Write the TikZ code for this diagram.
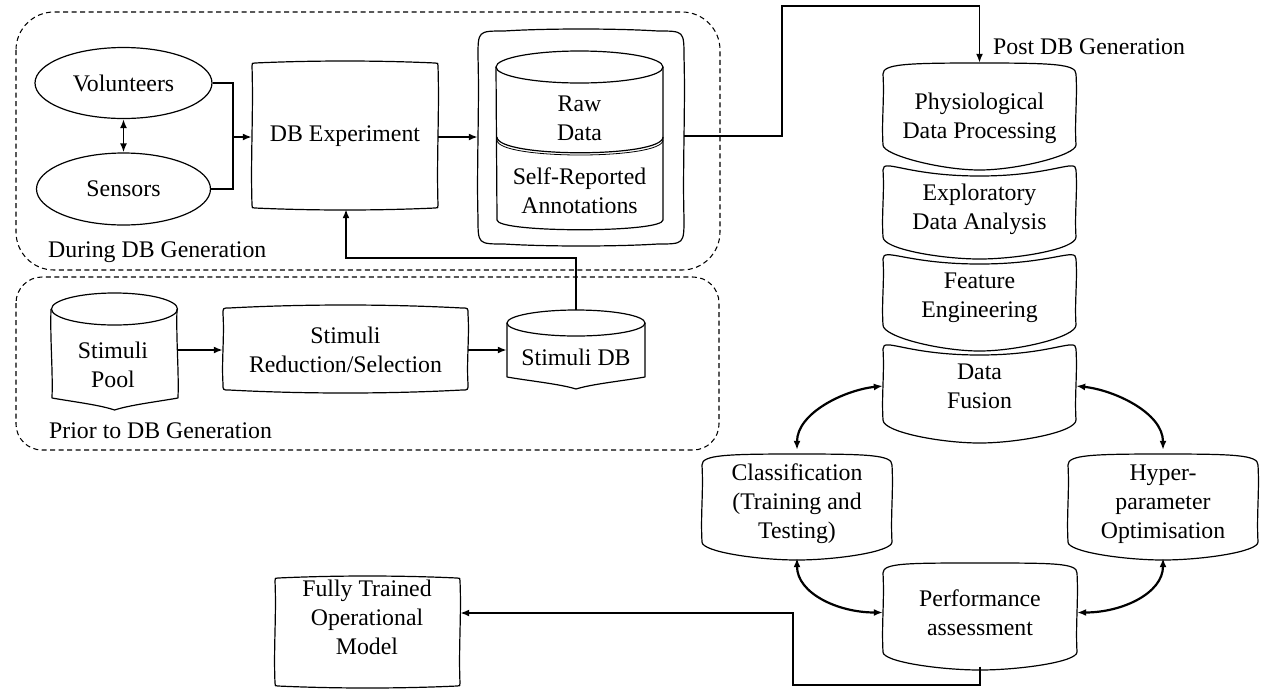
\documentclass[tikz,border=0pt]{standalone}
\usepackage{fontspec}
\setmainfont{Liberation Serif}
\usetikzlibrary{arrows.meta,shapes.geometric}

\tikzset{
  skline/.style={line width=1.2pt, line join=round},
  grp/.style={line width=1.05pt, dash pattern=on 5pt off 3.5pt},
  lbl/.style={inner sep=0pt, align=center},
  conn0/.style={line width=1.8pt},
  conn/.style={line width=1.8pt, -{Latex[length=9pt,width=7pt]}},
  biconn/.style={line width=2.2pt, {Latex[length=9pt,width=7pt]}-{Latex[length=9pt,width=7pt]}},
}

% near-rectangular hand-drawn box: x1 x2 topside topmid bottomside bottommid radius
\newcommand{\wavyrect}[7]{%
  \draw[skline] (#1,{#3+#7}) .. controls (#1,#3) .. ({#1+#7},#3)
    .. controls ({#1+0.33*(#2-#1)},{#3+4*(#4-#3)/3}) and ({#1+0.67*(#2-#1)},{#3+4*(#4-#3)/3}) .. ({#2-#7},#3)
    .. controls (#2,#3) .. (#2,{#3+#7})
    .. controls ({#2+1.5},{#3+0.35*(#5-#3)}) and ({#2-1.5},{#3+0.65*(#5-#3)}) .. (#2,{#5-#7})
    .. controls (#2,#5) .. ({#2-#7},#5)
    .. controls ({#1+0.67*(#2-#1)},{#5+4*(#6-#5)/3}) and ({#1+0.33*(#2-#1)},{#5+4*(#6-#5)/3}) .. ({#1+#7},#5)
    .. controls (#1,#5) .. (#1,{#5-#7})
    .. controls ({#1-1.5},{#3+0.65*(#5-#3)}) and ({#1+1.5},{#3+0.35*(#5-#3)}) .. (#1,{#3+#7}) -- cycle;}

% bowl-bottomed box: x1 x2 sidetop topmid sidebottom bottommid corner
\newcommand{\bowlbox}[7]{%
  \draw[skline] (#1,#3)
    .. controls (#1,{#3-#7}) and ({#1+0.12*(#2-#1)},#4) .. ({0.5*(#1+#2)},#4)
    .. controls ({#2-0.12*(#2-#1)},#4) and (#2,{#3-#7}) .. (#2,#3)
    .. controls ({#2+1.5},{#3+0.35*(#5-#3)}) and ({#2-1.5},{#3+0.65*(#5-#3)}) .. (#2,#5)
    .. controls (#2,{#5+#7}) and ({#2-0.3*(#2-#1)},#6) .. ({0.5*(#1+#2)},#6)
    .. controls ({#1+0.3*(#2-#1)},#6) and (#1,{#5+#7}) .. (#1,#5)
    .. controls ({#1-1.5},{#3+0.65*(#5-#3)}) and ({#1+1.5},{#3+0.35*(#5-#3)}) .. (#1,#3) -- cycle;}

\begin{document}
\begin{tikzpicture}[x=1pt, y=-1pt, font=\fontsize{23.8}{29}\selectfont]
\useasboundingbox (0,0) rectangle (1261,689);

% groups
\draw[grp, rounded corners=38pt] (16,12) rectangle (720,270);
\draw[grp, rounded corners=26pt] (16,277) rectangle (719,450);
\node[lbl, anchor=base west] (during) at (48,257) {During DB Generation};
\node[lbl, anchor=base west] (prior) at (49,438) {Prior to DB Generation};
\node[lbl, anchor=base west] (post) at (993,54) {Post DB Generation};

% volunteers / sensors
\node[draw, skline, ellipse, inner sep=0pt, minimum width=177pt, minimum height=71pt] (vol) at (123.5,83) {Volunteers};
\node[draw, skline, ellipse, inner sep=0pt, minimum width=174pt, minimum height=72pt] (sen) at (123.5,189) {Sensors};

% DB experiment
\wavyrect{252}{438}{63}{61}{208}{210}{3}
\node[lbl, minimum width=186pt, minimum height=146pt] (dbexp) at (345,136) {DB Experiment};

% raw data container
\wavyrect{478}{684}{31}{29}{244}{246}{26}
\node[lbl, minimum width=206pt, minimum height=214pt] (rawouter) at (581,136) {};
\draw[skline] (496,67) -- (497,220) .. controls (497,233) and (663,233) .. (663,220) -- (663,67);
\draw[skline] (579.5,67) ellipse [x radius=83.5pt, y radius=16pt];
\draw[skline] (497,137) .. controls (497,158) and (663,158) .. (663,137);
\draw[line width=0.8pt] (497,140) .. controls (497,160) and (663,160) .. (663,140);
\node[lbl] (raw) at (579.5,118) {Raw\\Data};
\node[lbl] (self) at (579.5,191) {Self-Reported\\Annotations};

% stimuli pool
\draw[skline] (51,309) .. controls (50,340) and (53,370) .. (52,398)
  .. controls (75,402) and (100,405) .. (114.5,410)
  .. controls (130,405) and (155,402) .. (178,398)
  .. controls (179,370) and (176,340) .. (177,309);
\draw[skline] (114.5,309) ellipse [x radius=63pt, y radius=16pt];
\node[lbl, minimum width=127pt, minimum height=118pt] (stimpool) at (114.5,350) {};
\node[lbl] (stimpooltxt) at (113,365) {Stimuli\\Pool};

% stimuli reduction
\wavyrect{223}{468}{308}{305}{390}{393}{6}
\node[lbl, minimum width=245pt, minimum height=85pt] (stimred) at (345.5,350) {Stimuli\\Reduction/Selection};

% stimuli DB
\draw[skline] (507,323) -- (507,377) .. controls (530,381) and (560,384) .. (576,389)
  .. controls (592,384) and (622,381) .. (645,377) -- (645,323);
\draw[skline] (576,323) ellipse [x radius=69pt, y radius=13pt];
\node[lbl, minimum width=138pt, minimum height=80pt] (stimdb) at (576,350) {};
\node[lbl] (stimdbtxt) at (576,357) {Stimuli DB};

% right column
\bowlbox{883}{1076}{74}{63}{145}{170}{10}
\bowlbox{883}{1076}{170}{176}{237}{259}{12}
\bowlbox{883}{1076}{259}{264}{325}{351}{12}
\bowlbox{883}{1076}{349}{355}{420}{443}{12}
\node[lbl, minimum width=193pt, minimum height=110pt] (phys) at (979.5,118) {Physiological\\Data Processing};
\node[lbl, minimum width=193pt, minimum height=90pt] (explor) at (979.5,209) {Exploratory\\Data Analysis};
\node[lbl, minimum width=193pt, minimum height=85pt] (feat) at (979.5,298) {Feature\\Engineering};
\node[lbl, minimum width=193pt, minimum height=90pt] (fusion) at (979.5,386) {Data\\Fusion};

% classification, hyper, performance
\bowlbox{702}{892}{465}{454}{542}{560}{10}
\node[lbl, minimum width=190pt, minimum height=108pt] (cls) at (797,504) {Classification\\(Training and\\Testing)};
\bowlbox{1068}{1258}{465}{454}{542}{560}{10}
\node[lbl, minimum width=190pt, minimum height=108pt] (hyp) at (1163,504) {Hyper-\\parameter\\Optimisation};
\bowlbox{883}{1077}{573}{563}{652}{670}{10}
\node[lbl, minimum width=194pt, minimum height=108pt] (perf) at (980,612.5) {Performance\\assessment};

% fully trained model
\wavyrect{275}{460}{578}{576}{686}{688}{3}
\node[lbl, minimum width=185pt, minimum height=110pt] (full) at (367.5,632) {};
\node[lbl] (fulltxt) at (367,617) {Fully Trained\\Operational\\Model};

% connectors
\coordinate (j) at (233,137);
\draw[conn0] (vol.east) -| (j);
\draw[conn0] (sen.east) -| (j);
\draw[conn] (j) -- (j -| dbexp.west);
\draw[biconn, line width=1.8pt] (vol.south) -- (sen.north);
\draw[conn] (dbexp.east |- j) -- (rawouter.west |- j);
\coordinate (c1) at (782,6);
\draw[conn] (rawouter.east) -| (c1) -| (phys.north);
\draw[conn] (stimpool.east |- stimred.west) -- (stimred.west);
\draw[conn] (stimred.east) -- (stimdb.west);
\coordinate (c2) at (346,258);
\draw[conn] (stimdb.north) |- (c2) -- (c2 |- dbexp.south);
\draw[biconn] (fusion.west) .. controls +(-38,4) and +(0,-37) .. (cls.north);
\draw[biconn] (fusion.east) .. controls +(38,4) and +(0,-37) .. (hyp.north);
\draw[biconn] (cls.south) .. controls +(0,35) and +(-45,0) .. (perf.west);
\draw[biconn] (hyp.south) .. controls +(0,35) and +(45,0) .. (perf.east);
\coordinate (c3) at (793,685);
\coordinate (c4) at (793,613);
\draw[conn] (perf.south) |- (c3) -- (c4) -- (c4 -| full.east);
\end{tikzpicture}
\end{document}
